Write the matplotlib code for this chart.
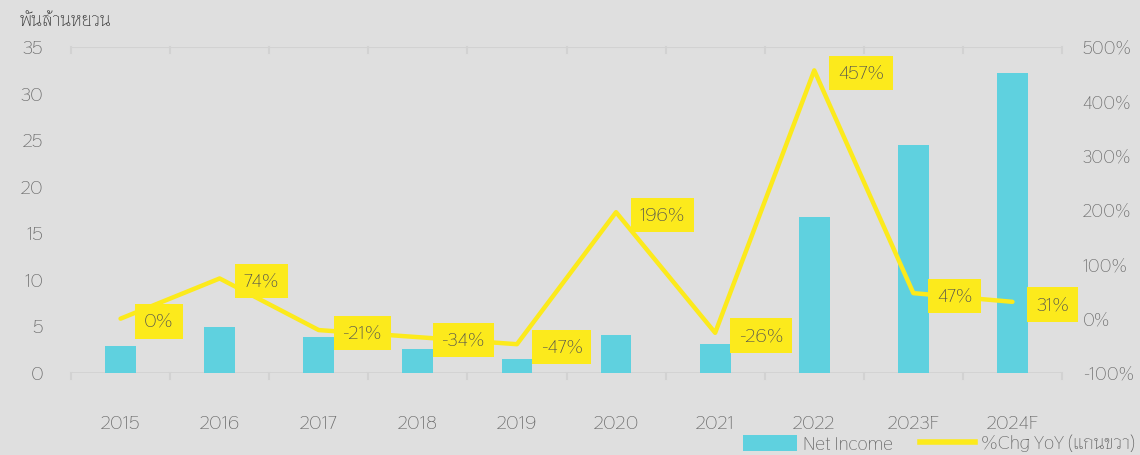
import matplotlib
matplotlib.use("Agg")
import matplotlib.pyplot as plt
import numpy as np
from matplotlib.patches import Patch
from matplotlib.lines import Line2D

years = ["2015", "2016", "2017", "2018", "2019", "2020", "2021", "2022", "2023F", "2024F"]
net_income = [2.9, 4.9, 3.9, 2.6, 1.5, 4.1, 3.1, 16.8, 24.5, 32.2]
chg_yoy = [0, 74, -21, -34, -47, 196, -26, 457, 47, 31]
chg_labels = ["0%", "74%", "-21%", "-34%", "-47%", "196%", "-26%", "457%", "47%", "31%"]
left_ticks = [0, 5, 10, 15, 20, 25, 30, 35]
right_ticks = [-100, 0, 100, 200, 300, 400, 500]

BG = "#dfdfdf"
BAR = "#5fd1df"
YEL = "#fcea1c"
TICK = "#6a6a6a"
FONT = ["Thasadith", "DejaVu Sans"]
plt.rcParams["font.family"] = FONT

fig = plt.figure(figsize=(11.4, 4.55), dpi=100, facecolor=BG)
ax = fig.add_axes([71/1140, 1-373/455, (1062-71)/1140, (373-47)/455])
ax.set_facecolor(BG)
x = np.arange(len(years))
ax.bar(x, net_income, width=0.31, color=BAR, zorder=2)
ax.set_ylim(0, 35)
ax.set_xlim(-0.5, len(years)-0.5)
ax.set_yticks(left_ticks)
ax.set_yticklabels([str(t) for t in left_ticks])
ax.tick_params(axis="y", length=0, pad=20, labelsize=14, labelcolor=TICK)
ax.set_xticks(x)
ax.set_xticklabels(years)
ax.tick_params(axis="x", length=0, pad=30, labelsize=14, labelcolor=TICK)
for s in ax.spines.values():
    s.set_visible(False)
gc = "#d2d2d2"
ax.axhline(0, color=gc, lw=2, zorder=1)
ax.axhline(35, color=gc, lw=1.5, zorder=1)
for b in np.arange(-0.5, len(years), 1.0):
    ax.plot([b, b], [0, -0.6], color=gc, lw=1.5, clip_on=False, zorder=1)
    ax.plot([b, b], [35, 34.4], color=gc, lw=1.5, clip_on=False, zorder=1)

ax2 = ax.twinx()
ax2.set_ylim(-100, 500)
ax2.set_yticks(right_ticks)
ax2.set_yticklabels([f"{t}%" for t in right_ticks])
ax2.tick_params(axis="y", length=0, pad=15, labelsize=13, labelcolor=TICK)
for s in ax2.spines.values():
    s.set_visible(False)
ax2.plot(x, chg_yoy, color=YEL, lw=3.2, solid_capstyle="round", solid_joinstyle="round", zorder=3)
for xi, yi, lab in zip(x, chg_yoy, chg_labels):
    ax2.annotate(lab, (xi, yi), xytext=(17, -2), textcoords="offset points",
                 ha="left", va="center", fontsize=14, color="#505050",
                 bbox=dict(boxstyle="square,pad=0.45", fc=YEL, ec="none"), zorder=4)

fig.text(20/1140, 1-20/455, "พันล้านหยวน", fontsize=14, color="#3a3a3a", ha="left", va="center")

handles = [Patch(facecolor=BAR, edgecolor="none"), Line2D([0], [0], color=YEL, lw=4)]
fig.legend(handles, ["Net Income", "%Chg YoY (แกนขวา)"], loc="lower right",
           bbox_to_anchor=(1152/1140, -15/455), ncol=2, frameon=False, fontsize=14,
           labelcolor="#6a6a6a", handlelength=2.8, handleheight=0.9, columnspacing=1.4, handletextpad=0.3)

fig.savefig("out.png", dpi=100, facecolor=BG)
